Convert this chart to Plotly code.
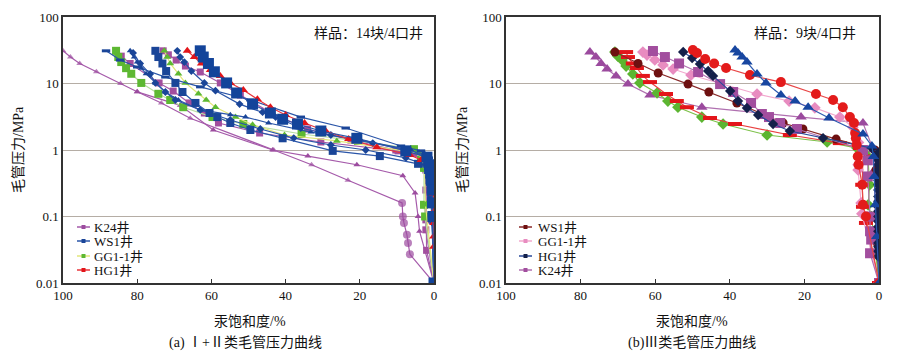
import plotly.graph_objects as go

# ---------------- Panel (a): I+II class curves ----------------
# saturation (%) and capillary pressure (MPa)
a_k24_1_s = [100, 98, 95.5, 91, 84.5, 80, 73.5, 65.7, 43.2, 33, 23.2, 8.6, 8.4, 8.1, 7.3, 7.0, 6.5, 0]
a_k24_1_p = [31, 25, 20, 15, 10, 7.5, 5.1, 3.0, 1.0, 0.6, 0.35, 0.16, 0.1, 0.08, 0.053, 0.04, 0.027, 0.01]
a_k24_2_s = [80, 68.4, 59.5, 43.5, 34, 20.8, 8.4, 5.1, 4.3, 3.9, 0]
a_k24_2_p = [7.5, 4.7, 2.0, 1.0, 0.81, 0.6, 0.41, 0.226, 0.1, 0.06, 0.01]
a_k24_3_s = [84.3, 81.9, 74.1, 70.3, 66, 61.9, 58.1, 47, 30.5, 9.7, 3.5, 2.2, 2.2, 2.0, 0]
a_k24_3_p = [25.8, 20, 10.2, 7.7, 5.1, 3.6, 2.55, 1.8, 1.32, 0.97, 0.76, 0.5, 0.089, 0.031, 0.01]
a_k24_4_s = [73, 71.6, 69.5, 67, 63, 57.6, 52.2, 43.8, 34.1, 22.4, 10.3, 5.4, 2.4, 2.2, 2.2, 0]
a_k24_4_p = [31, 27, 22.5, 18.3, 14.9, 10.2, 6.7, 3.6, 2.07, 1.41, 1.0, 0.9, 0.6, 0.25, 0.063, 0.01]

a_ws1_1_s = [63, 62.2, 60.8, 59.2, 55.9, 53.2, 48.9, 44.1, 40.8, 36.8, 30.5, 20.8, 7.6, 1.9, 1.2, 0.9, 0.7, 0.5, 0.4, 0.3, 0]
a_ws1_1_p = [31, 25, 20, 15, 10.2, 7.2, 4.9, 3.6, 2.9, 2.46, 1.93, 1.5, 0.97, 0.78, 0.6, 0.45, 0.35, 0.25, 0.16, 0.1, 0.01]
a_ws1_2_s = [75.1, 74.3, 73.2, 72.2, 69.7, 67.8, 64.3, 60.5, 58.4, 54.9, 49.5, 40.8, 27.3, 14.6, 4.3, 1.6, 1.2, 0.8, 0.5, 0]
a_ws1_2_p = [31, 25, 20, 15.4, 10.2, 7.45, 5.1, 3.6, 3.13, 2.55, 2.0, 1.5, 0.97, 0.81, 0.62, 0.5, 0.35, 0.2, 0.1, 0.01]
a_ws1_3_s = [81.9, 80.8, 80, 78.9, 77.6, 75.1, 72.4, 68.9, 63, 54.9, 50.8, 44.6, 33.2, 19.7, 6.2, 2.2, 1.0, 0.6, 0]
a_ws1_3_p = [31, 25, 21, 17, 14, 10.2, 7.45, 5.65, 4.0, 3.4, 3.13, 2.55, 1.86, 1.41, 1.0, 0.76, 0.4, 0.15, 0.01]
a_ws1_4_s = [88.4, 84.6, 80, 72.4, 63, 49.5, 35.9, 23.8, 8.9, 3.5, 1.4, 0.8, 0.5, 0]
a_ws1_4_p = [31, 22.5, 17.7, 12.5, 8.9, 5.65, 3.13, 2.14, 1.15, 0.97, 0.76, 0.4, 0.1, 0.01]
a_ws1_5_s = [69.2, 68.4, 67.3, 65.4, 61.9, 58.9, 52.4, 46.2, 42.7, 35.9, 27.8, 16.5, 6.8, 2.4, 1.4, 0.8, 0.4, 0]
a_ws1_5_p = [31, 25, 21, 15.4, 10.2, 7.8, 4.9, 3.7, 3.13, 2.14, 1.68, 1.27, 1.0, 0.84, 0.66, 0.3, 0.08, 0.01]
a_ws1_6_s = [81.1, 79.2, 76.5, 75.1, 72.4, 69.7, 63, 54.9, 46.8, 37.8, 27.8, 18.4, 7.6, 2.4, 1.1, 0.6, 0]
a_ws1_6_p = [28.8, 20, 13.9, 10.2, 7.45, 5.65, 4.0, 2.83, 2.07, 1.51, 1.19, 1.0, 0.76, 0.6, 0.35, 0.1, 0.01]

a_gg_1_s = [85.7, 85.1, 84.3, 83, 81.6, 78.9, 74.3, 71.1, 67.6, 59.7, 51.4, 35.7, 20.5, 5.4, 3.5, 2.7, 2.7, 2.4, 0]
a_gg_1_p = [31, 25, 21, 17, 14, 10.2, 7, 5.65, 4.4, 3.13, 2.46, 1.74, 1.37, 1.03, 0.71, 0.54, 0.15, 0.1, 0.01]
a_gg_2_s = [72.7, 71.9, 71.1, 68.9, 67, 63.5, 61.4, 58.9, 53.5, 48.9, 40.3, 26.2, 4.0, 2.5, 2.3, 0]
a_gg_2_p = [31, 25, 20, 14, 10.2, 7, 5.65, 4.4, 3.13, 2.4, 1.68, 1.37, 0.9, 0.5, 0.15, 0.01]

a_hg_1_s = [66.5, 64.6, 62.7, 60.3, 57.6, 54.9, 51.4, 47.6, 44.1, 40, 34.9, 29.2, 23, 15.4, 6.5, 3.5, 1.4,
            0.5, 0.3, 0.2, 0.2, 0.1, 0.1, 0.1, 0.1, 0]
a_hg_1_p = [31, 25, 20, 16, 13, 10.2, 8, 5.8, 4.4, 3.36, 2.55, 1.93, 1.46, 1.1, 0.84, 0.71, 0.64,
            0.45, 0.3, 0.22, 0.16, 0.12, 0.08, 0.05, 0.035, 0.01]

# ---------------- Panel (b): III class curves ----------------
b_k24_1_s = [77.5, 75.9, 74.5, 72.9, 70.5, 67.3, 61.4, 47.5, 20.9, 4.3, 1.5, 1.2, 1.0, 0.5, 0]
b_k24_1_p = [29.7, 25, 20, 16.5, 13, 9.8, 6.7, 4.4, 3.13, 2.55, 1.0, 0.5, 0.1, 0.03, 0.01]
b_grn_s = [70.8, 70, 68.9, 67.8, 66, 64.1, 59.5, 56.6, 53.9, 47.5, 41.8, 30, 13.9, 5.9, 3.0, 2.5, 2.9, 2.0, 0]
b_grn_p = [29.7, 25.8, 22.6, 18.3, 13.9, 10.2, 7.2, 5.45, 4.4, 3.13, 2.46, 1.68, 1.32, 1.07, 0.8, 0.3, 0.15, 0.1, 0.01]
b_reddash_s = [67.8, 67.3, 66, 64.9, 63.3, 61.4, 57.1, 54.2, 51.5, 45.3, 38.6, 23.9, 10.5, 5.1, 4.3, 4.5, 4.3, 3.5, 0]
b_reddash_p = [29.7, 25, 20, 17.1, 13, 10.5, 6.95, 5.45, 4.4, 3.03, 2.46, 1.68, 1.27, 1.07, 0.8, 0.3, 0.14, 0.08, 0.01]
b_ws1_s = [70.8, 64.6, 59.2, 51.2, 45.6, 38.1, 25.7, 20.4, 11.5, 1.1, 0.8, 0.6, 0.6, 0.5, 0]
b_ws1_p = [29.7, 20, 14.4, 9.8, 7.45, 5.1, 2.55, 2.07, 1.46, 1.0, 0.5, 0.1, 0.06, 0.04, 0.01]
b_gg_s = [63.3, 62.2, 60.1, 57.9, 55.2, 50.4, 32.7, 24.1, 17.2, 10.5, 7, 5.9, 5.5, 5.3, 5.6, 5.6, 4.8, 4.6, 0]
b_gg_p = [29.7, 26.8, 22.6, 19, 16.5, 13.4, 6.95, 5.45, 4.3, 3.13, 2.2, 1.68, 1.3, 0.8, 0.6, 0.5, 0.16, 0.11, 0.01]
b_k24_2_s = [60.6, 57.4, 53.6, 48.5, 42.6, 39.1, 34.3, 31.4, 29.5, 26.5, 22, 4.3, 3.0, 3.0, 2.4, 2.4, 2.1, 2.4, 0]
b_k24_2_p = [30.8, 25, 20, 14.9, 9.8, 7.45, 5.1, 3.48, 3.13, 2.55, 2.07, 1.0, 0.7, 0.4, 0.1, 0.06, 0.045, 0.028, 0.01]
b_hg_s = [52.5, 50.1, 48, 45.8, 44.5, 39.9, 37.8, 35.4, 32.4, 28.4, 23.9, 15, 1.9,
          0.2, 0.2, 0.2, 0.2, 0.2, 0.2, 0.2, 0.2, 0.2, 0.2, 0.2, 0.2, 0.2, 0.2, 0.2, 0.2, 0.2, 0.2, 0.2, 0.2, 0.2, 0.2, 0]
b_hg_p = [29.7, 24.2, 19.6, 15.4, 13, 7.7, 5.45, 4.28, 3.36, 2.46, 1.93, 1.51, 1.07,
          0.9, 0.8, 0.7, 0.6, 0.5, 0.42, 0.35, 0.3, 0.25, 0.2, 0.17, 0.14, 0.12, 0.1, 0.085, 0.07, 0.06, 0.05, 0.04, 0.035, 0.03, 0.025, 0.01]
b_redc_s = [49.9, 48.8, 46.6, 44.2, 41, 34.6, 26.3, 16.9, 12.3, 9.7, 7.8, 6.7, 6.4, 6.2, 6.0, 5.7, 5.5, 4.5, 4.3, 3.5, 0]
b_redc_p = [31.9, 28.8, 23.4, 20, 17.1, 13.4, 10.5, 6.95, 5.65, 4.4, 3.13, 2.55, 1.8, 1.5, 1.2, 0.8, 0.6, 0.3, 0.15, 0.1, 0.01]
b_blue_s = [38.6, 37.8, 36.7, 35.4, 32.7, 30.3, 26.3, 22.5, 19, 13.4, 4.3, 1.9, 1.5, 1.3, 1.0, 0.6, 0]
b_blue_p = [31.9, 28.8, 25, 21, 13.9, 10.2, 6.7, 5.45, 4.4, 3.03, 1.74, 1.15, 0.8, 0.4, 0.15, 0.05, 0.01]

x_ticks = [0, 20, 40, 60, 80, 100]
y_ticks = [0.01, 0.1, 1, 10, 100]
y_tick_text = ["0.01", "0.1", "1", "10", "100"]

legend_a_names = ["K24井", "WS1井", "GG1-1井", "HG1井"]
legend_b_names = ["WS1井", "GG1-1井", "HG1井", "K24井"]
legend_a_colors = [("#A55AAA", "#9C4C9F"), ("#2A55A8", "#1A4598"), ("#E2E67A", "#5DB832"), ("#E8343A", "#E3151A")]
legend_b_colors = [("#8A2A2A", "#6E1010"), ("#F2A8CE", "#E88CC0"), ("#2A4A9A", "#14204A"), ("#B070B0", "#A24E9E")]

FONT = "Liberation Serif, Noto Sans CJK SC, serif"

# The page body has an 8px margin, so the figure is drawn 8px right/down of the page origin.
OFF = 8
FIG_W, FIG_H = 884, 344
ML = 63 - OFF            # plot left edge at page x=63
MT = 17 - OFF            # plot top edge at page y=17
MR = FIG_W - (879 - OFF)  # right plot edge at page x=879
MB = FIG_H - (283 - OFF)  # plot bottom at page y=283
W, H = FIG_W - ML - MR, FIG_H - MT - MB


def px(x):
    return (x - OFF - ML) / W


def py(y):
    return (FIG_H - MB - (y - OFF)) / H


fig = go.Figure()


def add(s, p, xa, ya, lc, mc, sym, size, lw=1.2, mline=None):
    marker = dict(color=mc, size=size, symbol=sym, line=dict(width=0))
    if mline is not None:
        marker["line"] = dict(width=mline, color=mc)
    fig.add_trace(go.Scatter(x=s, y=p, xaxis=xa, yaxis=ya, mode="lines+markers",
                             line=dict(color=lc, width=lw), marker=marker,
                             showlegend=False, hoverinfo="skip"))


# panel a traces
n_tri = 11
k24_sym = ["triangle-up"] * n_tri + ["circle"] * (len(a_k24_1_s) - n_tri)
k24_size = [6] * n_tri + [8] * (len(a_k24_1_s) - n_tri)
fig.add_trace(go.Scatter(x=a_k24_1_s, y=a_k24_1_p, xaxis="x", yaxis="y", mode="lines+markers",
                         line=dict(color="#A55AAA", width=1.2),
                         marker=dict(color="#9C4C9F", size=k24_size, symbol=k24_sym, line=dict(width=0)),
                         showlegend=False, hoverinfo="skip"))
add(a_k24_2_s, a_k24_2_p, "x", "y", "#A55AAA", "#9C4C9F", "triangle-up", 6)
add(a_k24_3_s, a_k24_3_p, "x", "y", "#A55AAA", "#A24E9E", "square", 7)
add(a_k24_4_s, a_k24_4_p, "x", "y", "#A55AAA", "#A24E9E", "square", 7)
add(a_gg_1_s, a_gg_1_p, "x", "y", "#B8DEA0", "#5DB832", "square", 8)
add(a_gg_2_s, a_gg_2_p, "x", "y", "#E2E67A", "#5DB832", "triangle-up", 7)
add(a_ws1_4_s, a_ws1_4_p, "x", "y", "#2A55A8", "#1A4598", "line-ew", 6, mline=3)
add(a_ws1_3_s, a_ws1_3_p, "x", "y", "#2A55A8", "#1A4598", "triangle-up", 6)
add(a_ws1_6_s, a_ws1_6_p, "x", "y", "#2A55A8", "#1A4598", "diamond", 6)
add(a_ws1_5_s, a_ws1_5_p, "x", "y", "#2A55A8", "#1A4598", "diamond", 6)
add(a_ws1_2_s, a_ws1_2_p, "x", "y", "#2A55A8", "#1A4598", "square", 8)
add(a_hg_1_s, a_hg_1_p, "x", "y", "#E8343A", "#E3151A", "triangle-up", 8)
add(a_ws1_1_s, a_ws1_1_p, "x", "y", "#2A55A8", "#13449A", "square", 11)

# panel b traces
add(b_k24_1_s, b_k24_1_p, "x2", "y2", "#B070B0", "#9B4A9E", "triangle-up", 10)
add(b_grn_s, b_grn_p, "x2", "y2", "#7CC048", "#5CB531", "diamond", 9)
add(b_reddash_s, b_reddash_p, "x2", "y2", "#E84040", "#E3151A", "line-ew", 10, mline=4)
add(b_ws1_s, b_ws1_p, "x2", "y2", "#8A2A2A", "#6E1010", "circle", 9)
add(b_gg_s, b_gg_p, "x2", "y2", "#F2A8CE", "#E88CC0", "diamond", 9)
add(b_k24_2_s, b_k24_2_p, "x2", "y2", "#B070B0", "#A24E9E", "square", 10)
add(b_hg_s, b_hg_p, "x2", "y2", "#2A4A9A", "#14204A", "diamond", 8)
add(b_redc_s, b_redc_p, "x2", "y2", "#E84646", "#E31B1B", "circle", 10)
add(b_blue_s, b_blue_p, "x2", "y2", "#2D5AB0", "#1746A0", "triangle-up", 10)

xaxis_common = dict(range=[100, 0], tickvals=x_ticks, ticks="inside", ticklen=4, tickcolor="#333",
                    showline=True, linecolor="#333", linewidth=1.5, mirror=True, showgrid=False,
                    zeroline=False, automargin=False, tickfont=dict(size=13, family=FONT, color="#111"))
yaxis_common = dict(type="log", range=[-2, 2], tickvals=y_ticks, ticktext=y_tick_text,
                    showline=True, linecolor="#333", linewidth=1.5, mirror=True,
                    showgrid=True, gridcolor="#B5ADA5", gridwidth=1, ticks="", automargin=False,
                    zeroline=False, tickfont=dict(size=13, family=FONT, color="#111"))

fig.update_layout(
    width=FIG_W, height=FIG_H, margin=dict(l=ML, r=MR, t=MT, b=MB, autoexpand=False),
    paper_bgcolor="white", plot_bgcolor="white",
    font=dict(family=FONT, size=13, color="#111"),
    xaxis=dict(domain=[px(63), px(434)], anchor="y", **xaxis_common),
    yaxis=dict(domain=[0, 1], anchor="x", **yaxis_common),
    xaxis2=dict(domain=[px(506), px(879)], anchor="y2", **xaxis_common),
    yaxis2=dict(domain=[0, 1], anchor="x2", **yaxis_common),
    showlegend=False,
)

ann = [
    dict(text="样品：14块/4口井", x=px(425), y=py(33), xanchor="right", yanchor="middle", font=dict(size=14)),
    dict(text="样品：9块/4口井", x=px(858), y=py(33), xanchor="right", yanchor="middle", font=dict(size=14)),
    dict(text="毛管压力/MPa", x=px(18), y=py(150), textangle=-90, xanchor="center", yanchor="middle", font=dict(size=14)),
    dict(text="毛管压力/MPa", x=px(462), y=py(150), textangle=-90, xanchor="center", yanchor="middle", font=dict(size=14)),
    dict(text="汞饱和度/%", x=px(250), y=py(321), xanchor="center", yanchor="middle", font=dict(size=14)),
    dict(text="汞饱和度/%", x=px(692), y=py(321), xanchor="center", yanchor="middle", font=dict(size=14)),
    dict(text="(a) Ⅰ+Ⅱ类毛管压力曲线", x=px(245), y=py(343), xanchor="center", yanchor="middle", font=dict(size=14)),
    dict(text="(b)Ⅲ类毛管压力曲线", x=px(692), y=py(343), xanchor="center", yanchor="middle", font=dict(size=14)),
]

# hand-drawn legends (line sample + small square marker + label)
shapes = []
legend_rows = [227, 241, 256, 270]
for (x0, x1, xt), names, cols in [((77, 90, 92), legend_a_names, legend_a_colors),
                                   ((519, 532, 536), legend_b_names, legend_b_colors)]:
    for yy, name, (lc, mc) in zip(legend_rows, names, cols):
        shapes.append(dict(type="line", xref="paper", yref="paper", x0=px(x0), x1=px(x1), y0=py(yy), y1=py(yy),
                           line=dict(color=lc, width=1.5)))
        xm = (x0 + x1) / 2
        shapes.append(dict(type="rect", xref="paper", yref="paper", x0=px(xm - 2), x1=px(xm + 2),
                           y0=py(yy + 2), y1=py(yy - 2), fillcolor=mc, line=dict(width=0)))
        ann.append(dict(text=name, x=px(xt), y=py(yy), xanchor="left", yanchor="middle", font=dict(size=13)))

for a in ann:
    a.update(xref="paper", yref="paper", showarrow=False)
fig.update_layout(annotations=ann, shapes=shapes)

fig.write_html("out.html")
